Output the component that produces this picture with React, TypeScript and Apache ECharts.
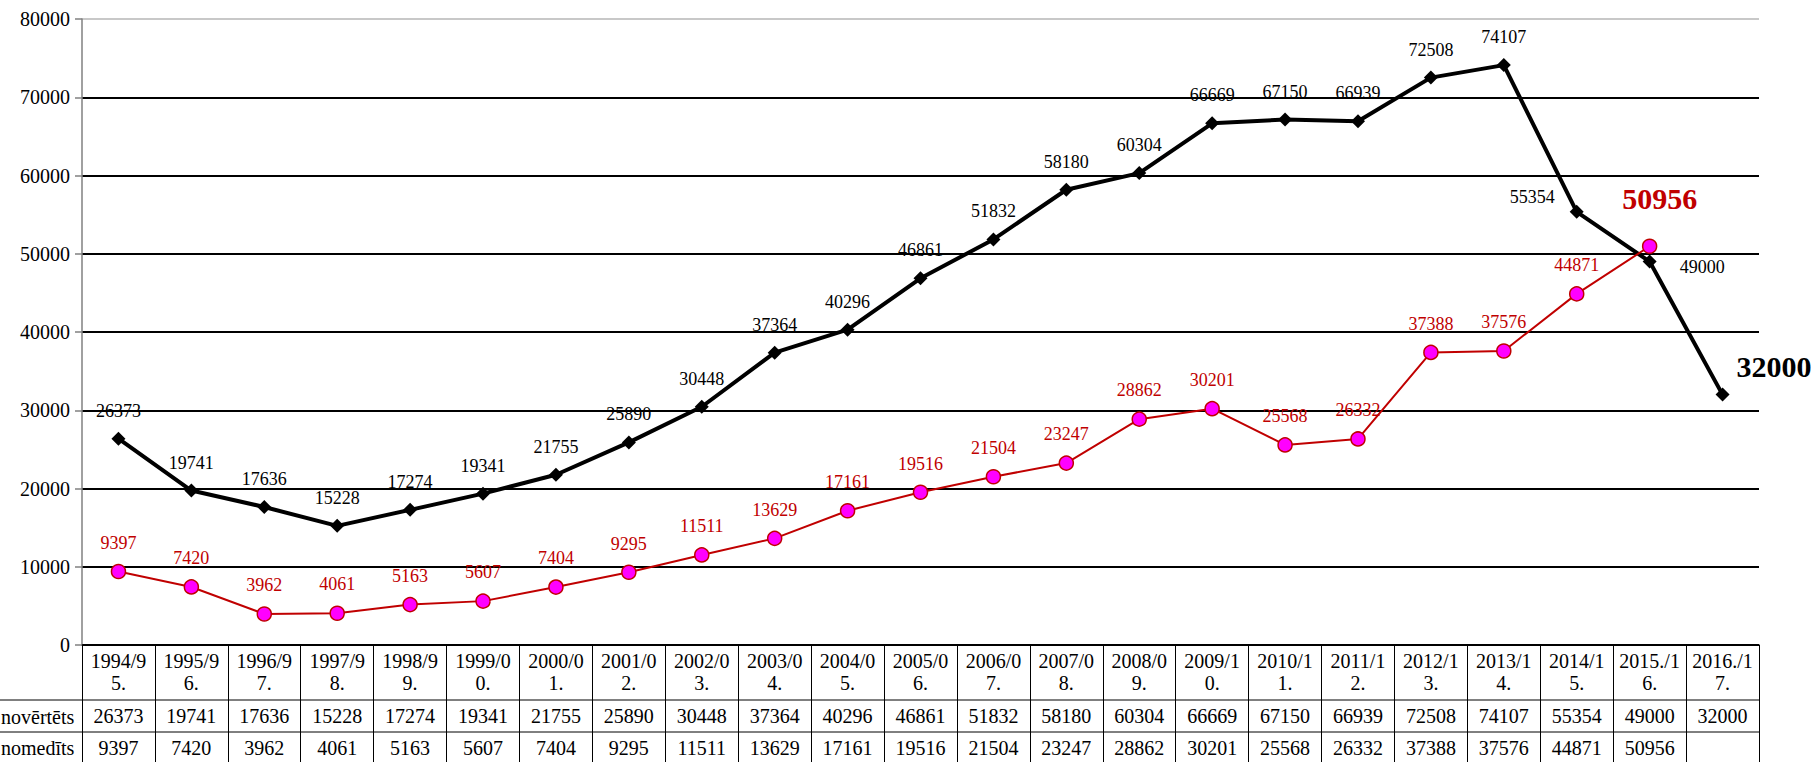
import React, { useEffect, useRef } from 'react';
import * as echarts from 'echarts';

const FONT = 'Liberation Serif';

const categories = [
  '1994/95.', '1995/96.', '1996/97.', '1997/98.', '1998/99.', '1999/00.', '2000/01.',
  '2001/02.', '2002/03.', '2003/04.', '2004/05.', '2005/06.', '2006/07.', '2007/08.',
  '2008/09.', '2009/10.', '2010/11.', '2011/12.', '2012/13.', '2013/14.', '2014/15.',
  '2015./16.', '2016./17.',
];

const novertetsValues = [
  26373, 19741, 17636, 15228, 17274, 19341, 21755, 25890, 30448, 37364, 40296, 46861,
  51832, 58180, 60304, 66669, 67150, 66939, 72508, 74107, 55354, 49000, 32000,
];

const nomeditsValues = [
  9397, 7420, 3962, 4061, 5163, 5607, 7404, 9295, 11511, 13629, 17161, 19516, 21504,
  23247, 28862, 30201, 25568, 26332, 37388, 37576, 44871, 50956,
];

const rowLabels = ['novērtēts', 'nomedīts'];

const Y_MIN = 0;
const Y_MAX = 80000;
const Y_STEP = 10000;

const RED = '#c00000';

function buildOption() {
  const blackData = novertetsValues.map((v, i) => {
    if (i === 20) {
      return { value: v, label: { position: 'left', distance: 15, offset: [0, -15] } };
    }
    if (i === 21) {
      return { value: v, label: { position: 'right', distance: 23, offset: [0, 5] } };
    }
    if (i === 22) {
      return {
        value: v,
        label: { position: 'right', distance: 7, offset: [0, -28], fontSize: 30, fontWeight: 'bold', fontFamily: FONT },
      };
    }
    return v;
  });
  const redData = nomeditsValues.map((v, i) => {
    if (i === 21) {
      return {
        value: v,
        label: { position: 'top', distance: 25, offset: [10, 0], fontSize: 30, fontWeight: 'bold', color: RED, fontFamily: FONT },
      };
    }
    return v;
  });

  const splitColors = [] as string[];
  for (let v = Y_MIN; v <= Y_MAX; v += Y_STEP) splitColors.push(v === Y_MAX ? '#c8c8c8' : '#000');

  const rowAxis = (vals: (number | string)[], offset: number) => ({
    type: 'category',
    position: 'bottom',
    offset,
    data: categories.map((_, i) => (vals[i] === undefined ? '' : String(vals[i]))),
    boundaryGap: true,
    axisLine: { show: false },
    axisTick: { show: false },
    axisLabel: {
      interval: 0,
      margin: 6,
      fontFamily: FONT,
      fontSize: 20,
      lineHeight: 20,
      color: '#000',
      hideOverlap: false,
    },
  });

  return {
    animation: false,
    backgroundColor: '#fff',
    textStyle: { fontFamily: FONT },
    grid: { left: 82, right: 61, top: 19, bottom: 117, containLabel: false },
    xAxis: [
      {
        type: 'category',
        position: 'bottom',
        data: categories,
        boundaryGap: true,
        axisLine: { show: true, lineStyle: { color: '#000', width: 1.5 } },
        axisTick: { show: true, length: 117, lineStyle: { color: '#000', width: 1 } },
        axisLabel: {
          interval: 0,
          margin: 5,
          fontFamily: FONT,
          fontSize: 20,
          lineHeight: 22,
          color: '#000',
          formatter: (s: string) => s.slice(0, s.length - 2) + '\n' + s.slice(s.length - 2),
        },
        splitLine: { show: false },
      },
      rowAxis(novertetsValues, 55),
      rowAxis(nomeditsValues, 87),
    ],
    yAxis: {
      type: 'value',
      min: Y_MIN,
      max: Y_MAX,
      interval: Y_STEP,
      axisLine: { show: true, lineStyle: { color: '#808080', width: 1.5 } },
      axisTick: { show: true, length: 7, lineStyle: { color: '#808080', width: 1.5 } },
      axisLabel: {
        margin: 12,
        fontFamily: FONT,
        fontSize: 20,
        color: '#000',
        formatter: (v: number) => String(v),
      },
      splitLine: { show: true, lineStyle: { color: splitColors, width: 2 } },
    },
    graphic: [
      { type: 'line', shape: { x1: 0, y1: 700, x2: 1759, y2: 700 }, style: { stroke: '#000', lineWidth: 1 } },
      { type: 'line', shape: { x1: 0, y1: 732, x2: 1759, y2: 732 }, style: { stroke: '#000', lineWidth: 1 } },
      {
        type: 'text',
        x: 1,
        y: 717,
        style: { text: rowLabels[0], fontFamily: FONT, fontSize: 20, fill: '#000', align: 'left', verticalAlign: 'middle' },
      },
      {
        type: 'text',
        x: 1,
        y: 748,
        style: { text: rowLabels[1], fontFamily: FONT, fontSize: 20, fill: '#000', align: 'left', verticalAlign: 'middle' },
      },
    ],
    series: [
      {
        name: 'novērtēts',
        type: 'line',
        xAxisIndex: 0,
        data: blackData,
        symbol: 'diamond',
        symbolSize: 14,
        itemStyle: { color: '#000' },
        lineStyle: { color: '#000', width: 4 },
        label: {
          show: true,
          position: 'top',
          distance: 12,
          fontFamily: FONT,
          fontSize: 18,
          color: '#000',
        },
        z: 3,
      },
      {
        name: 'nomedīts',
        type: 'line',
        xAxisIndex: 0,
        data: redData,
        symbol: 'circle',
        symbolSize: 14,
        itemStyle: { color: '#ff00ff', borderColor: RED, borderWidth: 1.5 },
        lineStyle: { color: RED, width: 2 },
        label: {
          show: true,
          position: 'top',
          distance: 12,
          fontFamily: FONT,
          fontSize: 18,
          color: RED,
        },
        z: 4,
      },
    ],
  };
}

export default function App() {
  const ref = useRef<HTMLDivElement>(null);
  useEffect(() => {
    if (!ref.current) return;
    const chart = echarts.init(ref.current, null, { renderer: 'svg' });
    chart.setOption(buildOption() as any);
    return () => chart.dispose();
  }, []);
  return (
    <div
      ref={ref}
      style={{ position: 'fixed', left: 0, top: 0, width: 1820, height: 762, background: '#fff' }}
    />
  );
}
